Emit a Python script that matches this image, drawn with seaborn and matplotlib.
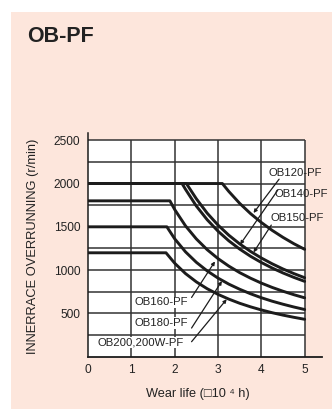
import matplotlib
matplotlib.use("Agg")
import matplotlib.pyplot as plt
from matplotlib.patches import Rectangle
import numpy as np
import pandas as pd
import seaborn as sns

# Speed limit vs wear life for each OB-PF model
ob120_x = [0, 3.1, 3.25, 3.5, 3.75, 4.0, 4.25, 4.5, 4.75, 5.0]
ob120_y = [2000, 2000, 1908, 1771, 1653, 1550, 1459, 1378, 1305, 1240]

ob140_x = [0, 2.27, 2.5, 2.75, 3.0, 3.25, 3.5, 3.75, 4.0, 4.25, 4.5, 4.75, 5.0]
ob140_y = [2000, 2000, 1824, 1658, 1520, 1403, 1303, 1216, 1140, 1073, 1013, 960, 912]

ob150_x = [0, 2.17, 2.25, 2.5, 2.75, 3.0, 3.25, 3.5, 3.75, 4.0, 4.25, 4.5, 4.75, 5.0]
ob150_y = [2000, 2000, 1933, 1740, 1582, 1450, 1338, 1243, 1160, 1088, 1024, 967, 916, 870]

ob160_x = [0, 1.89, 2.0, 2.25, 2.5, 2.75, 3.0, 3.25, 3.5, 3.75, 4.0, 4.25, 4.5, 4.75, 5.0]
ob160_y = [1800, 1800, 1700, 1511, 1360, 1236, 1133, 1046, 971, 907, 850, 800, 756, 716, 680]

ob180_x = [0, 1.82, 2.0, 2.25, 2.5, 2.75, 3.0, 3.25, 3.5, 3.75, 4.0, 4.25, 4.5, 4.75, 5.0]
ob180_y = [1500, 1500, 1362, 1211, 1090, 991, 908, 838, 779, 727, 681, 641, 606, 574, 545]

ob200_x = [0, 1.8, 2.0, 2.25, 2.5, 2.75, 3.0, 3.25, 3.5, 3.75, 4.0, 4.25, 4.5, 4.75, 5.0]
ob200_y = [1200, 1200, 1080, 960, 864, 785, 720, 665, 617, 576, 540, 508, 480, 455, 432]

models = ["OB120-PF", "OB140-PF", "OB150-PF", "OB160-PF", "OB180-PF", "OB200,200W-PF"]
xs = [ob120_x, ob140_x, ob150_x, ob160_x, ob180_x, ob200_x]
ys = [ob120_y, ob140_y, ob150_y, ob160_y, ob180_y, ob200_y]

x_ticks = [0, 1, 2, 3, 4, 5]
y_ticks = [500, 1000, 1500, 2000, 2500]

# label text anchor, leader start, leader tip (data coordinates)
label_pos = {
    "OB120-PF": ((4.16, 2118), (4.41, 2050), (3.82, 1660)),
    "OB140-PF": ((4.30, 1879), (4.38, 1924), (3.51, 1295)),
    "OB150-PF": ((4.22, 1598), (4.23, 1520), (3.82, 1205)),
    "OB160-PF": ((1.07, 628), (2.39, 684), (2.93, 1100)),
    "OB180-PF": ((1.07, 386), (2.39, 331), (3.09, 874)),
    "OB200,200W-PF": ((0.224, 162), (2.39, 173), (3.20, 663)),
}

df = pd.concat(
    [pd.DataFrame({"life": x, "speed": y, "model": m}) for m, x, y in zip(models, xs, ys)],
    ignore_index=True,
)

sns.set_theme(style="white")
plt.rcParams["font.family"] = ["Liberation Sans", "DejaVu Sans"]

PEACH = "#fde6dc"
INK = "#1c1c1c"

fig = plt.figure(figsize=(3.32, 4.09), dpi=100)
fig.patch.set_facecolor("white")
fig.patches.append(Rectangle((11 / 332, 0), 1 - 11 / 332, 1 - 12 / 409,
                             transform=fig.transFigure, facecolor=PEACH,
                             edgecolor="none", zorder=-10))

ax = fig.add_axes([88 / 332, 1 - 356.7 / 409, 234 / 332, 223.4 / 409])
ax.set_facecolor("none")
ax.set_xlim(0, 5.4)
ax.set_ylim(0, 2580)

# white chart box and grid
ax.add_patch(Rectangle((0, 0), 5, 2500, facecolor="white", edgecolor="none", zorder=0))
ax.hlines(np.arange(250, 2501, 250), 0, 5, color="#333333", lw=1.1, zorder=1)
ax.vlines(np.arange(1, 6), 0, 2500, color="#333333", lw=1.1, zorder=1)

sns.lineplot(data=df, x="life", y="speed", hue="model", palette=[INK] * len(models),
             estimator=None, sort=False, legend=False, lw=2.1, ax=ax, zorder=3)
for line in ax.lines:
    line.set_solid_joinstyle("round")

for m in models:
    (tx, ty), (sx, sy), (px, py) = label_pos[m]
    lower = tx < 3
    ax.text(tx, ty, m, fontsize=8.2, color="#222222", ha="left", va="center", zorder=5,
            bbox=dict(facecolor="white", edgecolor="none", pad=0.6) if lower else None)
    ax.annotate("", xy=(px, py), xytext=(sx, sy), zorder=4,
                arrowprops=dict(arrowstyle="-|>", lw=0.9, color=INK,
                                mutation_scale=5, shrinkA=0, shrinkB=0))

for side in ["top", "right"]:
    ax.spines[side].set_visible(False)
ax.spines["left"].set_color(INK)
ax.spines["bottom"].set_color(INK)
ax.spines["left"].set_linewidth(1.1)
ax.spines["bottom"].set_linewidth(1.3)
ax.set_xticks(x_ticks)
ax.set_yticks(y_ticks)
ax.set_xticklabels([str(v) for v in x_ticks])
ax.set_yticklabels([str(v) for v in y_ticks])
ax.tick_params(axis="both", direction="out", length=2.5, width=1, color=INK,
               labelsize=8.6, labelcolor="#222222", pad=3)

ax.set_xlabel("Wear life (□10 ⁴ h)", fontsize=9.2, color="#222222")
ax.set_ylabel("INNERRACE OVERRUNNING (r/min)", fontsize=9.3, color="#222222")
ax.xaxis.set_label_coords(0.4697, -0.167)
ax.xaxis.label.set_va("center")
ax.yaxis.set_label_coords(-0.235, 0.4955)
ax.yaxis.label.set_va("center")

fig.text(26.7 / 332, 1 - 36.3 / 409, "OB-PF", fontsize=15.5, fontweight="bold",
         color="#222222", ha="left", va="center")

fig.savefig("out.png", dpi=100, facecolor=fig.get_facecolor())
